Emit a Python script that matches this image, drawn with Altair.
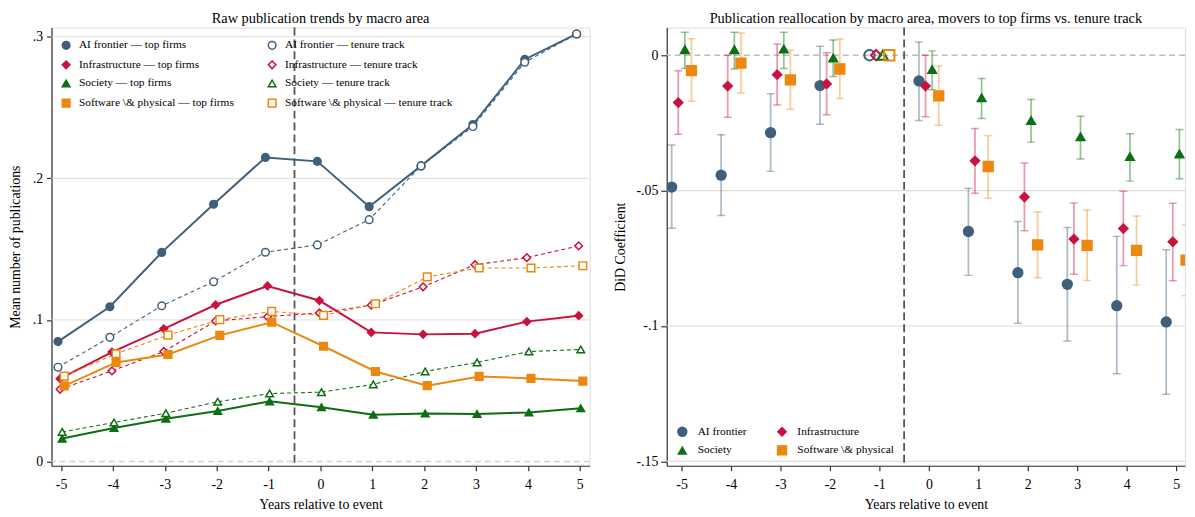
import altair as alt
import pandas as pd

FONT = "Liberation Serif"

years = [-5, -4, -3, -2, -1, 0, 1, 2, 3, 4, 5]
areas = ["AI frontier", "Infrastructure", "Society", "Software \\& physical"]
groups = ["top firms", "tenure track"]

# Left panel: raw mean publications
ai_top = [0.0847, 0.1093, 0.1477, 0.1817, 0.2148, 0.2120, 0.1800, 0.2088, 0.2380, 0.2840, 0.3020]
ai_tenure = [0.0666, 0.0877, 0.1100, 0.1270, 0.1478, 0.1530, 0.1708, 0.2088, 0.2366, 0.2820, 0.3020]
infra_top = [0.0585, 0.0773, 0.0937, 0.1107, 0.1240, 0.1137, 0.0912, 0.0898, 0.0903, 0.0988, 0.1030]
infra_tenure = [0.0510, 0.0640, 0.0777, 0.0993, 0.1023, 0.1049, 0.1104, 0.1234, 0.1390, 0.1440, 0.1523]
society_top = [0.0162, 0.0237, 0.0302, 0.0357, 0.0425, 0.0383, 0.0330, 0.0339, 0.0336, 0.0346, 0.0376]
society_tenure = [0.0209, 0.0276, 0.0341, 0.0422, 0.0480, 0.0490, 0.0545, 0.0636, 0.0700, 0.0777, 0.0791]
software_top = [0.0534, 0.0700, 0.0756, 0.0891, 0.0984, 0.0814, 0.0636, 0.0536, 0.0601, 0.0587, 0.0568]
software_tenure = [0.0603, 0.0761, 0.0893, 0.1002, 0.1060, 0.1032, 0.1114, 0.1304, 0.1367, 0.1367, 0.1383]

# Right panel: DiD coefficients with confidence intervals
ai_coef = [-0.0487, -0.0443, -0.0286, -0.0112, 0.0, -0.0095, -0.0651, -0.0803, -0.0846, -0.0925, -0.0985]
ai_lo = [-0.0639, -0.0592, -0.0429, -0.0255, None, -0.0241, -0.0813, -0.0990, -0.1055, -0.1176, -0.1252]
ai_hi = [-0.0332, -0.0294, -0.0142, 0.0033, None, 0.0049, -0.0491, -0.0614, -0.0636, -0.0669, -0.0718]
infra_coef = [-0.0175, -0.0114, -0.0072, -0.0106, 0.0, -0.0114, -0.0390, -0.0524, -0.0679, -0.0640, -0.0689]
infra_lo = [-0.0292, -0.0229, -0.0184, -0.0220, None, -0.0227, -0.0510, -0.0648, -0.0809, -0.0777, -0.0833]
infra_hi = [-0.0057, 0.0000, 0.0041, 0.0009, None, 0.0000, -0.0271, -0.0398, -0.0546, -0.0502, -0.0547]
society_coef = [0.0022, 0.0022, 0.0024, -0.0009, 0.0, -0.0051, -0.0156, -0.0240, -0.0300, -0.0373, -0.0363]
society_lo = [-0.0049, -0.0051, -0.0049, -0.0079, None, -0.0128, -0.0234, -0.0321, -0.0383, -0.0465, -0.0456]
society_hi = [0.0085, 0.0085, 0.0085, 0.0056, None, 0.0016, -0.0086, -0.0164, -0.0225, -0.0290, -0.0274]
software_coef = [-0.0057, -0.0029, -0.0091, -0.0051, 0.0, -0.0150, -0.0411, -0.0700, -0.0702, -0.0721, -0.0757]
software_lo = [-0.0170, -0.0140, -0.0200, -0.0160, None, -0.0259, -0.0528, -0.0822, -0.0832, -0.0849, -0.0888]
software_hi = [0.0061, 0.0082, 0.0018, 0.0060, None, -0.0040, -0.0297, -0.0579, -0.0572, -0.0594, -0.0627]

area_colors = ["#3f5f7b", "#c8123f", "#0d6e12", "#ec870f"]
area_shapes = ["circle", "diamond", "triangle-up", "square"]
left_offsets = [-0.06, -0.02, 0.02, 0.06]
right_offsets = [-0.2, -0.067, 0.067, 0.2]

left_series = {
    ("AI frontier", "top firms"): ai_top,
    ("AI frontier", "tenure track"): ai_tenure,
    ("Infrastructure", "top firms"): infra_top,
    ("Infrastructure", "tenure track"): infra_tenure,
    ("Society", "top firms"): society_top,
    ("Society", "tenure track"): society_tenure,
    ("Software \\& physical", "top firms"): software_top,
    ("Software \\& physical", "tenure track"): software_tenure,
}
right_series = {
    "AI frontier": (ai_coef, ai_lo, ai_hi),
    "Infrastructure": (infra_coef, infra_lo, infra_hi),
    "Society": (society_coef, society_lo, society_hi),
    "Software \\& physical": (software_coef, software_lo, software_hi),
}

# legend fills column by column: first column = top firms, second = tenure track
series_order = [f"{a} — {g}" for g in groups for a in areas]
series_stroke = [area_colors[i] for g in groups for i in range(4)]
series_fill = [area_colors[i] if g == "top firms" else "white" for g in groups for i in range(4)]
series_shape = [area_shapes[i] for g in groups for i in range(4)]

# right legend: column 1 = AI frontier, Society; column 2 = Infrastructure, Software
rl_idx = [0, 2, 1, 3]
rl_domain = [areas[k] for k in rl_idx]
rl_colors = [area_colors[k] for k in rl_idx]
rl_shapes = [area_shapes[k] for k in rl_idx]

rows = []
for i, a in enumerate(areas):
    for g in groups:
        for t, v in zip(years, left_series[(a, g)]):
            rows.append(dict(t=t, x=t + left_offsets[i], area=a, group=g,
                             series=f"{a} — {g}", value=v))
left_df = pd.DataFrame(rows)

rrows = []
for i, a in enumerate(areas):
    c, lo, hi = right_series[a]
    for t, cv, lv, hv in zip(years, c, lo, hi):
        rrows.append(dict(t=t, x=t + right_offsets[i], area=a, coef=cv, lo=lv, hi=hv))
right_df = pd.DataFrame(rrows)
right_ci = right_df[right_df["lo"].notna()]
right_est = right_df[right_df["t"] != -1]
right_ref = right_df[right_df["t"] == -1]

axis_style = dict(grid=False, domainColor="#333333", domainWidth=1.2, tickColor="#333333",
                  tickWidth=1.2, labelFont=FONT, titleFont=FONT, labelFontSize=14,
                  titleFontSize=14, titleFontWeight="normal", labelColor="black",
                  titleColor="black")

ylab = ("datum.value == 0 ? '0' : (datum.value < 0 ? '-' : '') + "
        "replace(format(abs(datum.value), '.2~f'), '0.', '.')")

title_style = dict(font=FONT, fontSize=14.5, fontWeight="normal", color="black",
                   anchor="middle", offset=0)

PLOT_H = 443

# ---------------- Left panel ----------------
lx_scale = alt.Scale(domain=[-5.185, 5.19], nice=False, zero=False)
ly_scale = alt.Scale(domain=[-0.003, 0.3065], nice=False, zero=False)
lx_axis = alt.Axis(values=years, labelExpr="datum.value + ''", title="Years relative to event",
                   tickSize=5, labelPadding=7, titlePadding=6, **axis_style)
ly_axis = alt.Axis(values=[0, 0.1, 0.2, 0.3], labelExpr=ylab, title="Mean number of publications",
                   tickSize=5, labelPadding=4, titlePadding=10, **axis_style)
LX = alt.X("x:Q", scale=lx_scale, axis=lx_axis)
LY = alt.Y("value:Q", scale=ly_scale, axis=ly_axis)

left_legend = alt.Legend(title=None, orient="none", legendX=9, legendY=12, columns=2,
                         columnPadding=30.3, rowPadding=4.9, labelFont=FONT, labelFontSize=11.5,
                         labelColor="black", symbolSize=60, symbolStrokeWidth=1.5,
                         labelOffset=7.2, padding=0, labelLimit=400)

left_grid = pd.DataFrame({"v": [0.1, 0.2, 0.3]})
zero_line = pd.DataFrame({"v": [0.0]})
event = pd.DataFrame({"v": [-0.5]})

left_layers = [
    alt.Chart(left_grid).mark_rule(color="#dcdcdc", strokeWidth=1).encode(
        y=alt.Y("v:Q", scale=ly_scale, axis=ly_axis)),
    alt.Chart(zero_line).mark_rule(color="#d3d3d3", strokeWidth=1.5, strokeDash=[6, 4]).encode(
        y=alt.Y("v:Q", scale=ly_scale, axis=ly_axis)),
    alt.Chart(event).mark_rule(color="#555555", strokeWidth=1.8, strokeDash=[8, 4]).encode(
        x=alt.X("v:Q", scale=lx_scale, axis=lx_axis)),
]
for i, a in enumerate(areas):
    for g in groups:
        sub = left_df[(left_df["area"] == a) & (left_df["group"] == g)]
        style = dict(color=area_colors[i], strokeWidth=2.0)
        if g == "tenure track":
            style = dict(color=area_colors[i], strokeWidth=1.1, strokeDash=[4, 3])
        left_layers.append(alt.Chart(sub).mark_line(**style).encode(x=LX, y=LY))

left_layers.append(
    alt.Chart(left_df).mark_point(opacity=1, strokeWidth=1.5, size=60).encode(
        x=LX, y=LY,
        stroke=alt.Stroke("series:N", scale=alt.Scale(domain=series_order, range=series_stroke), legend=left_legend),
        fill=alt.Fill("series:N", scale=alt.Scale(domain=series_order, range=series_fill), legend=left_legend),
        shape=alt.Shape("series:N", scale=alt.Scale(domain=series_order, range=series_shape), legend=left_legend),
    )
)

left = alt.layer(*left_layers).properties(
    width=544, height=PLOT_H,
    title=alt.TitleParams("Raw publication trends by macro area", **title_style),
)

# ---------------- Right panel ----------------
rx_scale = alt.Scale(domain=[-5.3, 5.18], nice=False, zero=False)
ry_scale = alt.Scale(domain=[-0.1516, 0.0102], nice=False, zero=False)
rx_axis = alt.Axis(values=years, labelExpr="datum.value + ''", title="Years relative to event",
                   tickSize=5, labelPadding=7, titlePadding=6, **axis_style)
ry_axis = alt.Axis(values=[0, -0.05, -0.1, -0.15], labelExpr=ylab, title="DiD Coefficient",
                   tickSize=6, labelPadding=3, titlePadding=9, **axis_style)
RX = alt.X("x:Q", scale=rx_scale, axis=rx_axis)

right_legend = alt.Legend(title=None, orient="none", legendX=9.75, legendY=402.4, columns=2,
                          columnPadding=29.8, rowPadding=7, labelFont=FONT, labelFontSize=11.5,
                          labelColor="black", symbolSize=110, labelOffset=9.5, padding=0,
                          labelLimit=400)

right_grid = pd.DataFrame({"v": [-0.05, -0.1, -0.15]})

right_layers = [
    alt.Chart(right_grid).mark_rule(color="#dcdcdc", strokeWidth=1.2).encode(
        y=alt.Y("v:Q", scale=ry_scale, axis=ry_axis)),
    alt.Chart(zero_line).mark_rule(color="#bdbdbd", strokeWidth=1.5, strokeDash=[6, 4]).encode(
        y=alt.Y("v:Q", scale=ry_scale, axis=ry_axis)),
    alt.Chart(event).mark_rule(color="#555555", strokeWidth=1.8, strokeDash=[8, 4]).encode(
        x=alt.X("v:Q", scale=rx_scale, axis=rx_axis)),
]
for i, a in enumerate(areas):
    sub = right_ci[right_ci["area"] == a]
    right_layers.append(
        alt.Chart(sub).mark_rule(color=area_colors[i], strokeWidth=1.8, opacity=0.42, clip=True).encode(
            x=RX, y=alt.Y("lo:Q", scale=ry_scale, axis=ry_axis), y2="hi:Q"))
    for col in ["lo", "hi"]:
        right_layers.append(
            alt.Chart(sub).mark_tick(orient="horizontal", size=8, thickness=1.5, color=area_colors[i],
                                     opacity=0.42, clip=True).encode(
                x=RX, y=alt.Y(f"{col}:Q", scale=ry_scale, axis=ry_axis)))

right_layers.append(
    alt.Chart(right_est).mark_point(filled=True, opacity=1, size=130, clip=True).encode(
        x=RX, y=alt.Y("coef:Q", scale=ry_scale, axis=ry_axis),
        color=alt.Color("area:N", scale=alt.Scale(domain=rl_domain, range=rl_colors), legend=right_legend),
        shape=alt.Shape("area:N", scale=alt.Scale(domain=rl_domain, range=rl_shapes), legend=right_legend),
    )
)
for i, a in enumerate(areas):
    sub = right_ref[right_ref["area"] == a]
    right_layers.append(
        alt.Chart(sub).mark_point(filled=False, opacity=1, size=110, strokeWidth=2,
                                  color=area_colors[i], shape=area_shapes[i]).encode(
            x=RX, y=alt.Y("coef:Q", scale=ry_scale, axis=ry_axis)))

right = alt.layer(*right_layers).properties(
    width=524, height=PLOT_H,
    title=alt.TitleParams("Publication reallocation by macro area, movers to top firms vs. tenure track",
                          **title_style),
)

chart = alt.hconcat(left, right, spacing=21).properties(padding=0).resolve_scale(
    color="independent", shape="independent", stroke="independent", fill="independent"
).configure_view(stroke=None).configure(background="white")

chart.save("out.html", embed_options={"renderer": "svg", "actions": False})
